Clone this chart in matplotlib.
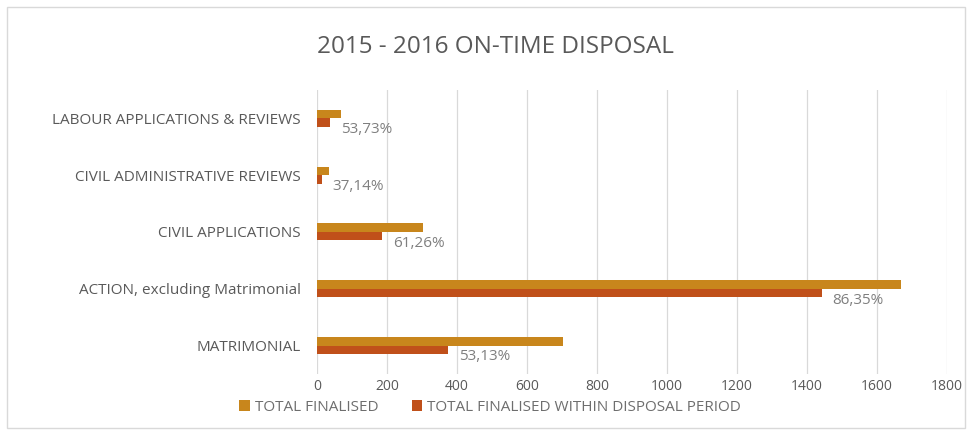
import numpy as np
import matplotlib.pyplot as plt
from matplotlib.patches import Rectangle

# dados
categorias = ['MATRIMONIAL', 'ACTION, excluding Matrimonial', 'CIVIL APPLICATIONS',
              'CIVIL ADMINISTRATIVE REVIEWS', 'LABOUR APPLICATIONS & REVIEWS']
total_finalised = [704, 1670, 302, 35, 67]
total_within = [374, 1442, 185, 13, 36]
rotulos = ['53,13%', '86,35%', '61,26%', '37,14%', '53,73%']

cor_total = '#C8861C'
cor_within = '#C0501A'
cinza = '#7F7F7F'

plt.rcParams['font.family'] = ['Open Sans', 'DejaVu Sans']

fig = plt.figure(figsize=(9.76, 4.36), dpi=100)
ax = fig.add_axes([0.325, 0.142, 0.645, 0.652])

y = np.arange(len(categorias))
h = 0.15
ax.barh(y + h / 2, total_finalised, height=h, color=cor_total, label='TOTAL FINALISED', zorder=3)
ax.barh(y - h / 2, total_within, height=h, color=cor_within,
        label='TOTAL FINALISED WITHIN DISPOSAL PERIOD', zorder=3)

for yi, v, txt in zip(y, total_within, rotulos):
    ax.annotate(txt, xy=(v, yi - h / 2), xytext=(8, -5), textcoords='offset points',
                va='center', ha='left', fontsize=11, color=cinza)

ax.set_xlim(0, 1800)
ax.set_ylim(-0.5, len(categorias) - 0.5)
ax.set_xticks(np.arange(0, 1801, 200))
ax.set_yticks(y)
ax.set_yticklabels(categorias, fontsize=11)
ax.tick_params(axis='both', length=0, labelsize=10, labelcolor='#595959')
ax.tick_params(axis='y', labelsize=11, pad=12)
ax.grid(axis='x', color='#D9D9D9', linewidth=0.9, zorder=0)
for s in ax.spines.values():
    s.set_visible(False)

fig.text(0.508, 1 - 47 / 436, '2015 - 2016 ON-TIME DISPOSAL', ha='center', va='center',
         fontsize=17.5, color='#595959')

fig.legend(loc='center', bbox_to_anchor=(0.502, 1 - 407 / 436), ncol=2, frameon=False,
           handlelength=0.7, handleheight=0.7, handletextpad=0.3, columnspacing=2.2,
           fontsize=11, labelcolor='#6E6E6E')

fig.patches.append(Rectangle((7 / 976, 8 / 436), 958 / 976, 421 / 436, transform=fig.transFigure,
                             fill=False, edgecolor='#D9D9D9', linewidth=1))

fig.savefig('out.png', dpi=100)
